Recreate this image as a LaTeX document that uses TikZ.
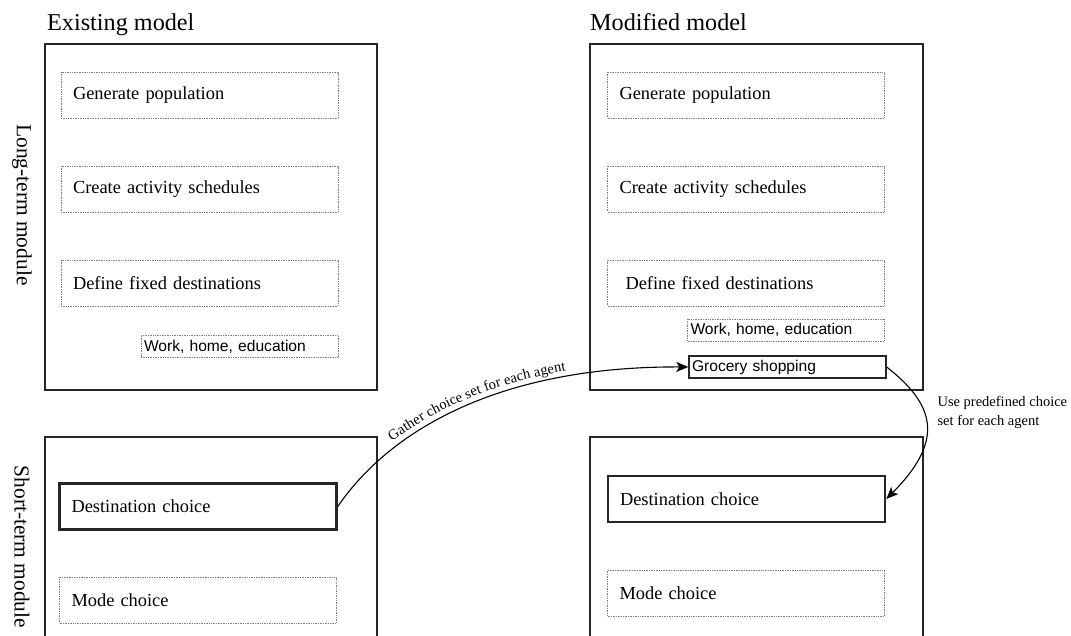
\documentclass[tikz,border=0pt]{standalone}
\usepackage{fontspec}
\setmainfont{Liberation Serif}
\newfontfamily\arialfont{Liberation Sans}
\usetikzlibrary{arrows.meta,decorations.text}

\newcommand{\titlefont}{\fontsize{24.2}{28}\selectfont}
\newcommand{\sidefont}{\fontsize{21.4}{25}\selectfont}
\newcommand{\stagefont}{\fontsize{18.4}{22}\selectfont}
\newcommand{\tagfont}{\arialfont\fontsize{15.6}{19}\selectfont}
\newcommand{\notefont}{\fontsize{14.5}{19}\selectfont}

\tikzset{
  module/.style={line width=1.6pt, draw=black!85},
  stage/.style={draw=gray, dash pattern=on 1pt off 0.7pt, line width=0.9pt,
    text width=253pt, inner xsep=12pt, minimum height=46pt, align=left, font=\stagefont},
  choice/.style={stage, draw=black!85, solid, line width=2.6pt},
  tag/.style={draw=gray, dash pattern=on 1pt off 0.7pt, line width=0.9pt,
    text width=191pt, inner xsep=3pt, minimum height=22pt, align=left, font=\tagfont},
  newtag/.style={tag, draw=black!85, solid, line width=1.4pt},
  flow/.style={line width=1.1pt, -{Stealth[length=12pt,width=10pt,inset=3pt]}},
  note/.style={font=\notefont, align=left},
  title/.style={font=\titlefont, anchor=base west, inner sep=0pt},
  side/.style={font=\sidefont, rotate=-90}
}

\begin{document}
\begin{tikzpicture}[x=1pt,y=-1pt]
\useasboundingbox (0,0) rectangle (1071,636);
\clip (0,0) rectangle (1071,636);
% titles
\node[title] (exist) at (47,31) {Existing model};
\node[title] (modif) at (590,31) {Modified model};
\node[side] (long) at (22,205) {Long-term module};
\node[side] (short) at (22,547) {Short-term module};
% existing model
\draw[module] (45,44) rectangle (377,390);
\draw[module] (45,650) -- (45,437) -- (377,437) -- (377,650);
\node[stage] (genL) at (199.5,95) {Generate population};
\node[stage] (actL) at (199.5,189) {Create activity schedules};
\node[stage] (fixL) at (199.5,283) {Define fixed destinations};
\node[tag] (workL) at (239.5,346.5) {Work, home, education};
\node[choice] (destL) at (198,506.5) {Destination choice};
\node[stage] (modeL) at (198,600) {Mode choice};
% modified model
\draw[module] (590,44) rectangle (923,390);
\draw[module] (590,650) -- (590,437) -- (923,437) -- (923,650);
\node[stage] (genR) at (746,95) {Generate population};
\node[stage] (actR) at (746,189) {Create activity schedules};
\node[stage, inner xsep=18pt, text width=241pt] (fixR) at (746,283) {Define fixed destinations};
\node[tag] (workR) at (786,330) {Work, home, education};
\node[newtag] (groc) at (787.5,367) {Grocery shopping};
\node[choice] (destR) at (746.5,499) {Destination choice};
\node[stage] (modeR) at (746,593.5) {Mode choice};
% arrows
\draw[flow] (destL.east) .. controls (390,430) and (500,366) .. (groc.west);
\path[decorate, decoration={text along path, raise=6pt, text align={left indent=84pt},
  text={|\notefont|Gather choice set for each agent}}]
  (destL.east) .. controls (390,430) and (500,366) .. (groc.west);
\draw[flow] (groc.east) .. controls (935,405) and (945,440) .. (destR.east);
\node[note, anchor=west] (usenote) at (934,412) {Use predefined choice\\set for each agent};
\end{tikzpicture}
\end{document}
